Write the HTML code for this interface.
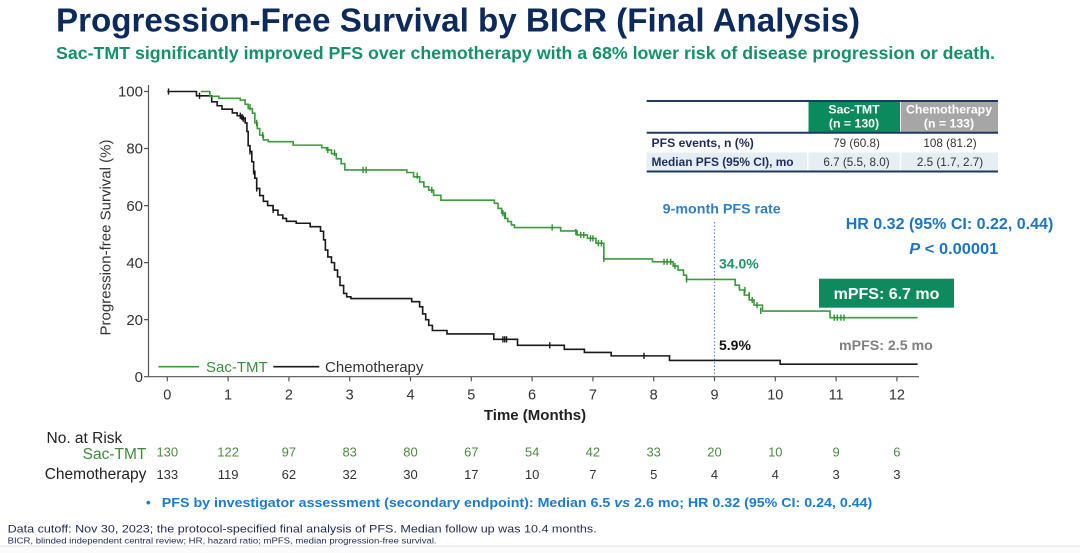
<!DOCTYPE html>
<html><head><meta charset="utf-8"><style>
html,body{margin:0;padding:0;background:#fff;}
body{width:1080px;height:553px;overflow:hidden;position:relative;}
svg{position:absolute;left:0;top:0;}
text{font-family:"Liberation Sans",Arial,sans-serif;}
</style></head><body>
<svg width="1080" height="553" viewBox="0 0 1080 553" xmlns="http://www.w3.org/2000/svg">
<rect x="0" y="0" width="1080" height="553" fill="#fff"/>
<rect x="0" y="546" width="1080" height="7" fill="#fbfbfb"/>
<line x1="0" y1="546" x2="1080" y2="546" stroke="#e2e2e2" stroke-width="1"/>

<!-- Title -->
<text x="56" y="31.5" font-size="33.5" font-weight="bold" fill="#0c2a5b" textLength="804" lengthAdjust="spacingAndGlyphs">Progression-Free Survival by BICR (Final Analysis)</text>
<text x="56" y="59" font-size="17.8" font-weight="bold" fill="#14906b" textLength="939" lengthAdjust="spacingAndGlyphs">Sac-TMT significantly improved PFS over chemotherapy with a 68% lower risk of disease progression or death.</text>

<!-- Table -->
<rect x="808.5" y="102" width="91.5" height="30" fill="#0b8a5d"/>
<rect x="901" y="102" width="97" height="30" fill="#a6a6a6"/>
<rect x="646.7" y="152.5" width="351.3" height="18" fill="#e5eef2"/>
<line x1="807.8" y1="133" x2="807.8" y2="171" stroke="#fff" stroke-width="1.5"/>
<line x1="900.5" y1="133" x2="900.5" y2="171" stroke="#fff" stroke-width="1.5"/>
<line x1="646.7" y1="101" x2="998" y2="101" stroke="#1f3864" stroke-width="2"/>
<line x1="646.7" y1="132.7" x2="998" y2="132.7" stroke="#1f3864" stroke-width="2"/>
<line x1="646.7" y1="171.5" x2="998" y2="171.5" stroke="#1f3864" stroke-width="2"/>
<text x="854" y="113.4" font-size="12.3" font-weight="bold" fill="#fff" text-anchor="middle">Sac-TMT</text>
<text x="854" y="127.7" font-size="12.3" font-weight="bold" fill="#fff" text-anchor="middle">(n = 130)</text>
<text x="949" y="113.4" font-size="12.3" font-weight="bold" fill="#fff" text-anchor="middle">Chemotherapy</text>
<text x="949" y="127.7" font-size="12.3" font-weight="bold" fill="#fff" text-anchor="middle">(n = 133)</text>
<text x="651.5" y="147" font-size="12.2" font-weight="bold" fill="#1f2d5c">PFS events, n (%)</text>
<text x="651.5" y="166" font-size="11.9" font-weight="bold" fill="#1f2d5c">Median PFS (95% CI), mo</text>
<text x="856.5" y="147" font-size="11.7" fill="#333" text-anchor="middle">79 (60.8)</text>
<text x="950" y="147" font-size="11.7" fill="#333" text-anchor="middle">108 (81.2)</text>
<text x="856.5" y="166" font-size="11.7" fill="#333" text-anchor="middle">6.7 (5.5, 8.0)</text>
<text x="950" y="166" font-size="11.7" fill="#333" text-anchor="middle">2.5 (1.7, 2.7)</text>

<!-- HR -->
<text x="845.7" y="229" font-size="16" font-weight="bold" fill="#1b75c4" textLength="207.6" lengthAdjust="spacingAndGlyphs">HR 0.32 (95% CI: 0.22, 0.44)</text>
<text x="909.3" y="254" font-size="16" font-weight="bold" fill="#1b75c4" textLength="89" lengthAdjust="spacingAndGlyphs"><tspan font-style="italic">P</tspan> &lt; 0.00001</text>

<!-- Axes -->
<g stroke="#555" stroke-width="1.2" fill="none">
<line x1="148.5" y1="85" x2="148.5" y2="377"/>
<line x1="148" y1="376.7" x2="919" y2="376.7"/>
<path d="M144,91.5H148.5M144,148.5H148.5M144,205.6H148.5M144,262.6H148.5M144,319.6H148.5M144,376.7H148.5"/>
<path d="M167.3,376.7v4.5M228.1,376.7v4.5M288.9,376.7v4.5M349.7,376.7v4.5M410.5,376.7v4.5M471.3,376.7v4.5M532.1,376.7v4.5M592.9,376.7v4.5M653.7,376.7v4.5M714.5,376.7v4.5M775.3,376.7v4.5M836.1,376.7v4.5M896.9,376.7v4.5"/>
</g>
<g font-size="15" fill="#333" text-anchor="end">
<text x="143" y="96.7">100</text>
<text x="143" y="153.7">80</text>
<text x="143" y="210.8">60</text>
<text x="143" y="267.8">40</text>
<text x="143" y="324.8">20</text>
<text x="143" y="381.9">0</text>
</g>
<g font-size="14.5" fill="#333" text-anchor="middle">
<text x="167.3" y="399.3">0</text>
<text x="228.1" y="399.3">1</text>
<text x="288.9" y="399.3">2</text>
<text x="349.7" y="399.3">3</text>
<text x="410.5" y="399.3">4</text>
<text x="471.3" y="399.3">5</text>
<text x="532.1" y="399.3">6</text>
<text x="592.9" y="399.3">7</text>
<text x="653.7" y="399.3">8</text>
<text x="714.5" y="399.3">9</text>
<text x="775.3" y="399.3">10</text>
<text x="836.1" y="399.3">11</text>
<text x="896.9" y="399.3">12</text>
</g>
<text x="535" y="420" font-size="15" font-weight="bold" fill="#222" text-anchor="middle">Time (Months)</text>
<text transform="translate(110.5,237.5) rotate(-90)" font-size="15" fill="#333" text-anchor="middle">Progression-free Survival (%)</text>

<!-- 9-month line -->
<line x1="714.5" y1="222" x2="714.5" y2="376" stroke="#5b8fd0" stroke-width="1.2" stroke-dasharray="1.5,2"/>
<text x="662.7" y="213.3" font-size="14" font-weight="bold" fill="#2f80c9" textLength="118" lengthAdjust="spacingAndGlyphs">9-month PFS rate</text>

<!-- Curves -->
<g transform="translate(167.3,376.7) scale(60.8,-2.852)" fill="none" stroke-linejoin="miter">
<path vector-effect="non-scaling-stroke" stroke="#1a1a1a" stroke-width="1.6" d="M0,100 H0.48 V98.5 H0.73 V96.4 H0.82 V95 H0.9 V93.8 H1.07 V92.5 H1.15 V91.5 H1.22 V90.5 H1.28 V89 H1.31 V86 H1.33 V81 H1.36 V79 H1.39 V75.4 H1.42 V72 H1.44 V69.6 H1.47 V66 H1.52 V63.5 H1.58 V61.5 H1.65 V60 H1.74 V58.4 H1.82 V56.7 H1.9 V55.5 H1.96 V54.5 H2.12 V53.8 H2.35 V52.6 H2.52 V51 H2.57 V48 H2.6 V44.4 H2.64 V42 H2.7 V40 H2.75 V37.4 H2.8 V35 H2.84 V32 H2.9 V29.2 H2.95 V28 H3.02 V27.4 H4.02 V26.3 H4.15 V24.5 H4.2 V22 H4.25 V20 H4.3 V18 H4.36 V16.2 H4.6 V15 H5.37 V13.1 H5.76 V11 H6.53 V9.6 H6.86 V8.5 H7.3 V7.3 H8.26 V5.7 H10.08 V4.4 H12.34"/>
<path vector-effect="non-scaling-stroke" stroke="#1a1a1a" stroke-width="1.4" d="M0.02,98.9V101.1 M0.53,97.4V99.6 M1.2,90.4V92.6 M1.23,89.9V92.1 M1.25,89.4V91.6 M1.28,88.9V91.1 M1.36,77.9V80.1 M1.42,70.9V73.1 M1.44,69.4V71.6 M1.47,64.9V67.1 M1.74,57.4V59.6 M5.52,12V14.2 M5.55,12V14.2 M5.58,12V14.2 M6.29,9.9V12.1 M7.84,6.2V8.4"/>
<path vector-effect="non-scaling-stroke" stroke="#3d9a3d" stroke-width="1.6" d="M0.55,100 H0.70 V98.3 H0.85 V97.6 H1.2 V97 H1.28 V95.5 H1.33 V94 H1.40 V92.4 H1.44 V89 H1.48 V87 H1.52 V84.7 H1.58 V83 H1.66 V82.4 H2.07 V81.2 H2.54 V80.3 H2.62 V79.5 H2.7 V78.2 H2.78 V76.4 H2.86 V74.7 H2.92 V72.5 H3.94 V71.6 H4.05 V70.1 H4.15 V68.3 H4.22 V66.6 H4.3 V65.4 H4.38 V63.6 H4.5 V61.9 H5.38 V60.8 H5.44 V59 H5.5 V57.3 H5.55 V55.5 H5.6 V54.4 H5.66 V53.2 H5.71 V52.3 H6.47 V51.1 H6.74 V49.7 H6.91 V48.5 H7.05 V46.8 H7.18 V41.3 H7.98 V40.3 H8.32 V38.8 H8.4 V37.4 H8.49 V35.6 H8.54 V34.1 H9.34 V32.1 H9.41 V30.4 H9.49 V28.6 H9.57 V26.9 H9.65 V25.1 H9.79 V23 H10.9 V20.7 H12.34"/>
<path vector-effect="non-scaling-stroke" stroke="#2f8f2f" stroke-width="1.4" d="M1.36,93.4V95.6 M1.47,87.9V90.1 M1.57,83.6V85.8 M2.64,78.4V80.6 M2.75,77.4V79.6 M3.22,71.4V73.6 M3.27,71.4V73.6 M4.11,69.4V71.6 M4.35,64.4V66.6 M5.52,56.2V58.4 M5.56,55.6V57.8 M6.33,51.2V53.4 M6.72,49.6V51.8 M6.8,48.6V50.8 M6.85,48.6V50.8 M6.96,47.4V49.6 M7.0,47.4V49.6 M7.09,45.7V47.9 M7.14,45.7V47.9 M7.18,40.2V42.4 M8.17,39.2V41.4 M8.22,39.2V41.4 M8.28,39.2V41.4 M8.35,37.7V39.9 M8.54,33V35.2 M9.5,29.3V31.5 M9.57,27.5V29.7 M9.62,25.8V28 M9.7,24V26.2 M9.76,22V24.2 M10.97,19.6V21.8 M11.02,19.6V21.8 M11.08,19.6V21.8 M11.13,19.6V21.8"/>
</g>

<!-- Legend -->
<line x1="158.3" y1="366.7" x2="199" y2="366.7" stroke="#3d9a3d" stroke-width="1.6"/>
<text x="206" y="372" font-size="15" fill="#3a8f3a">Sac-TMT</text>
<line x1="273.3" y1="366.7" x2="319.3" y2="366.7" stroke="#1a1a1a" stroke-width="1.6"/>
<text x="325" y="372" font-size="15" fill="#333">Chemotherapy</text>

<!-- Curve labels -->
<text x="719" y="268.3" font-size="14" font-weight="bold" fill="#1e9462">34.0%</text>
<text x="719" y="350" font-size="14" font-weight="bold" fill="#111">5.9%</text>
<rect x="819" y="278.7" width="135" height="29" fill="#0f8a5f"/>
<text x="886.5" y="299" font-size="16" font-weight="bold" fill="#fff" text-anchor="middle">mPFS: 6.7 mo</text>
<text x="839" y="350" font-size="14.2" font-weight="bold" fill="#808080">mPFS: 2.5 mo</text>

<!-- At risk -->
<text x="46.5" y="442.8" font-size="15.5" fill="#222">No. at Risk</text>
<text x="146.4" y="459" font-size="15.5" fill="#3d8a3d" text-anchor="end">Sac-TMT</text>
<text x="146.4" y="478.8" font-size="15.5" fill="#222" text-anchor="end">Chemotherapy</text>
<g font-size="13" fill="#4b8b3f" text-anchor="middle">
<text x="167.3" y="456.6">130</text>
<text x="228.1" y="456.6">122</text>
<text x="288.9" y="456.6">97</text>
<text x="349.7" y="456.6">83</text>
<text x="410.5" y="456.6">80</text>
<text x="471.3" y="456.6">67</text>
<text x="532.1" y="456.6">54</text>
<text x="592.9" y="456.6">42</text>
<text x="653.7" y="456.6">33</text>
<text x="714.5" y="456.6">20</text>
<text x="775.3" y="456.6">10</text>
<text x="836.1" y="456.6">9</text>
<text x="896.9" y="456.6">6</text>
</g>
<g font-size="13" fill="#333" text-anchor="middle">
<text x="167.3" y="479.2">133</text>
<text x="228.1" y="479.2">119</text>
<text x="288.9" y="479.2">62</text>
<text x="349.7" y="479.2">32</text>
<text x="410.5" y="479.2">30</text>
<text x="471.3" y="479.2">17</text>
<text x="532.1" y="479.2">10</text>
<text x="592.9" y="479.2">7</text>
<text x="653.7" y="479.2">5</text>
<text x="714.5" y="479.2">4</text>
<text x="775.3" y="479.2">4</text>
<text x="836.1" y="479.2">3</text>
<text x="896.9" y="479.2">3</text>
</g>

<!-- Bullet -->
<text x="146" y="507" font-size="13.3" font-weight="bold" fill="#1a7bd0">•</text>
<text x="161.8" y="507" font-size="13.3" font-weight="bold" fill="#1a7bd0" textLength="710.5" lengthAdjust="spacingAndGlyphs">PFS by investigator assessment (secondary endpoint): Median 6.5 <tspan font-style="italic">vs</tspan> 2.6 mo; HR 0.32 (95% CI: 0.24, 0.44)</text>

<!-- Footer -->
<text x="7.6" y="532.3" font-size="11.3" fill="#1f2a55" textLength="589" lengthAdjust="spacingAndGlyphs">Data cutoff: Nov 30, 2023; the protocol-specified final analysis of PFS.  Median follow up was 10.4 months.</text>
<text x="7.6" y="543.7" font-size="8.7" fill="#1f2a55" textLength="429" lengthAdjust="spacingAndGlyphs">BICR, blinded independent central review; HR, hazard ratio; mPFS, median progression-free survival.</text>
</svg>
</body></html>
